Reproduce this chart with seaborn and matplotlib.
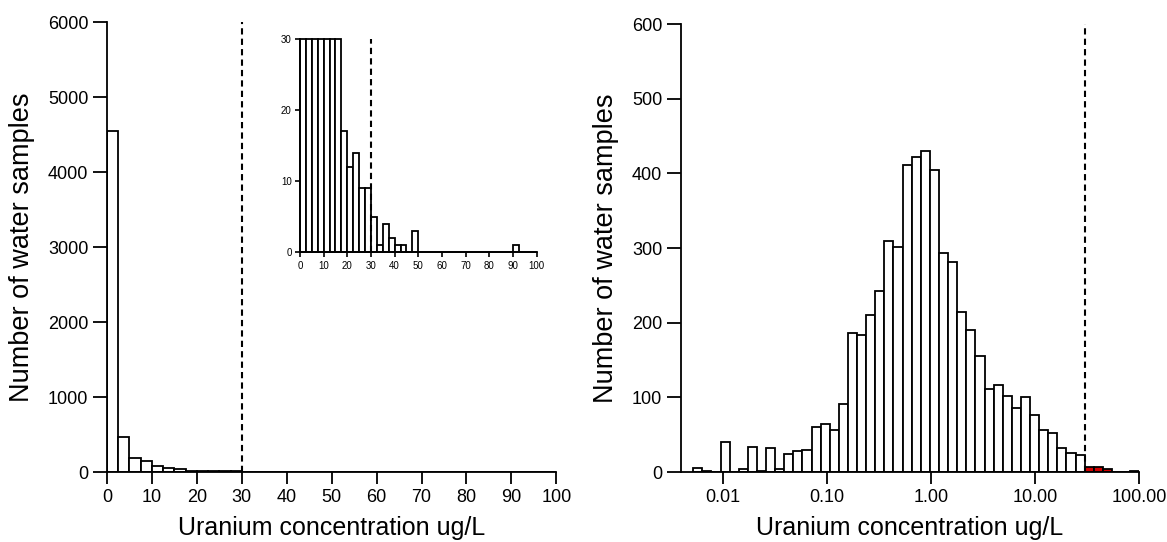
import numpy as np
import pandas as pd
import seaborn as sns
import matplotlib.pyplot as plt

# left panel: counts in 2.5 ug/L bins from 0 to 100
lin_counts = [4550, 467, 187, 147, 80, 57, 36, 17, 12, 14,
              9, 9, 5, 1, 4, 2, 1, 1, 0, 3,
              0, 0, 0, 0, 0, 0, 0, 0, 0, 0,
              0, 0, 0, 0, 0, 0, 1, 0, 0, 0]
lin_width = 2.5

# right panel: counts in log10 bins, 43 bins below the limit, 6 above
log_counts = [5, 2, 0, 40, 0, 4, 34, 2, 32, 4,
              24, 28, 29, 60, 65, 56, 91, 186, 184, 210,
              243, 310, 301, 411, 422, 430, 404, 293, 282, 215,
              190, 155, 111, 116, 102, 86, 100, 76, 56, 52,
              32, 25, 23, 7, 7, 4, 0, 0, 2]
n_below = 43
log_width = 0.0875

limit = 30  # ug/L guideline

lin_ticks = list(range(0, 101, 10))
inset_yticks = [0, 10, 20, 30]
left_yticks = list(range(0, 6001, 1000))
right_yticks = list(range(0, 601, 100))
right_xticks = [0.01, 0.1, 1, 10, 100]
right_xlabels = ['0.01', '0.10', '1.00', '10.00', '100.00']

sns.set_style('ticks')
plt.rcParams['font.family'] = ['Liberation Sans', 'DejaVu Sans']
plt.rcParams.update({'text.color': 'black', 'axes.labelcolor': 'black',
                     'xtick.color': 'black', 'ytick.color': 'black',
                     'axes.edgecolor': 'black'})

# bin edges
lin_edges = np.arange(len(lin_counts) + 1) * lin_width
log_edges = np.log10(limit) + (np.arange(len(log_counts) + 1) - n_below) * log_width

lin = pd.DataFrame({'conc': (lin_edges[:-1] + lin_edges[1:]) / 2, 'n': lin_counts})
logdf = pd.DataFrame({'conc': 10 ** ((log_edges[:-1] + log_edges[1:]) / 2), 'n': log_counts})

fig = plt.figure(figsize=(11.67, 5.42), dpi=100)
ax1 = fig.add_axes([0.0917, 0.129, 0.385, 0.830])
ax2 = fig.add_axes([0.5835, 0.129, 0.3925, 0.8266])
ax_in = fig.add_axes([0.257, 0.5345, 0.2028, 0.3936])

bar_kw = dict(color='white', edgecolor='black', linewidth=1.3, alpha=1)
dash = (0, (3, 2))
xlab = 'Uranium concentration ug/L'
ylab = 'Number of water samples'

# left main histogram
sns.histplot(data=lin, x='conc', weights='n', bins=list(lin_edges), ax=ax1, **bar_kw)
ax1.axvline(limit, color='black', ls=dash, lw=1.5)
ax1.set_xlim(0, 100)
ax1.set_ylim(0, 6000)
ax1.set_xticks(lin_ticks)
ax1.set_yticks(left_yticks)

# inset zoom on the low counts
sns.histplot(data=lin, x='conc', weights='n', bins=list(lin_edges), ax=ax_in, **bar_kw)
for p in ax_in.patches:
    p.set_height(min(p.get_height(), inset_yticks[-1]))
    p.set_clip_on(False)
ax_in.axvline(limit, color='black', ls=dash, lw=1.5)
ax_in.set_xlim(0, 100)
ax_in.set_ylim(0, inset_yticks[-1])
ax_in.set_xticks(lin_ticks)
ax_in.set_yticks(inset_yticks)
ax_in.set_xlabel('')
ax_in.set_ylabel('')
ax_in.tick_params(labelsize=7, length=3.5, width=1.2, pad=2.5)

# right log histogram
sns.histplot(data=logdf, x='conc', weights='n', bins=list(log_edges), log_scale=True, ax=ax2, **bar_kw)
for p in ax2.patches:
    if p.get_x() >= limit * 0.999:
        p.set_facecolor('#d10000')
ax2.axvline(limit, color='black', ls=dash, lw=1.5)
ax2.set_xlim(10 ** -2.404, 100)
ax2.set_ylim(0, 600)
ax2.set_xticks(right_xticks)
ax2.set_xticklabels(right_xlabels)
ax2.minorticks_off()
ax2.set_yticks(right_yticks)

for ax in (ax1, ax2, ax_in):
    sns.despine(ax=ax)
    for s in ('left', 'bottom'):
        ax.spines[s].set_linewidth(1.3)
for ax in (ax1, ax2):
    ax.set_xlabel(xlab, fontsize=18, labelpad=7)
    ax.set_ylabel(ylab, fontsize=19.5, labelpad=9)
    ax.tick_params(labelsize=13, width=1.3)
    ax.tick_params(axis='x', length=8.5, pad=4)
    ax.tick_params(axis='y', length=10, pad=3.5)

fig.savefig('out.png', dpi=100)
